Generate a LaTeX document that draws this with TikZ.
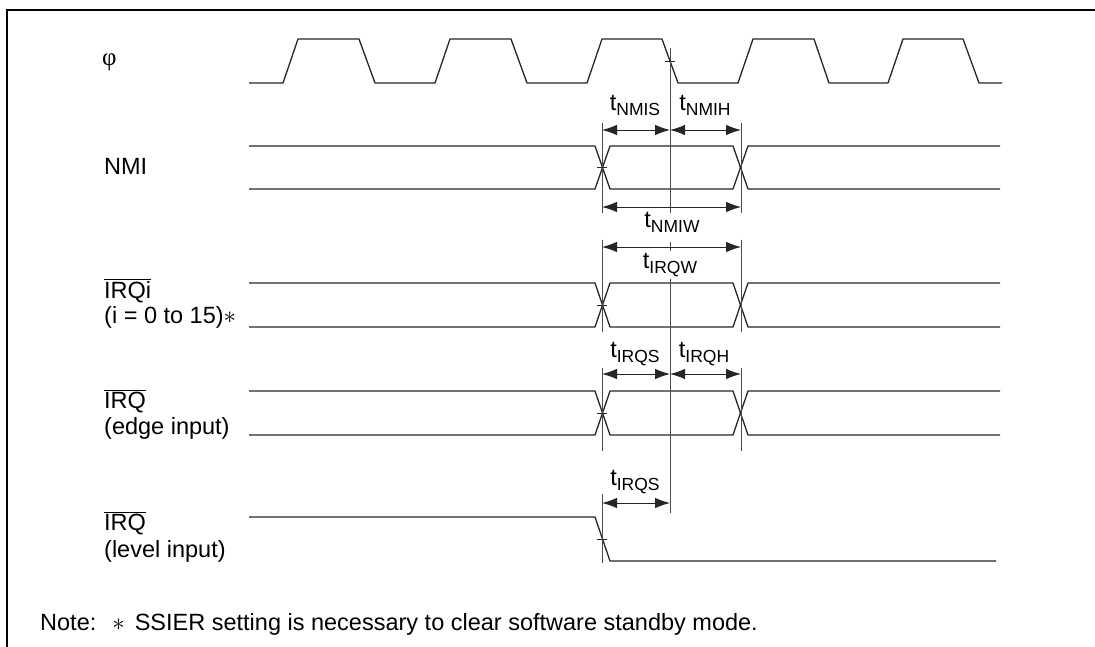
\documentclass[tikz,border=0pt]{standalone}
\usepackage{fontspec}
\setmainfont{Liberation Sans}
\newfontfamily\phifont{Liberation Serif}
\usetikzlibrary{arrows.meta}
\newcommand{\tsub}[2]{#1\raisebox{-5pt}{\fontsize{17.5}{18}\selectfont #2}}
\tikzset{
  sig/.style={line width=1.3pt, black!85, line join=round},
  dimln/.style={line width=0.9pt, black!70},
  dimarr/.style={line width=0.9pt, black!85, {Latex[length=15pt,width=10.5pt]}-{Latex[length=15pt,width=10.5pt]}},
  lbl/.style={anchor=base west, inner sep=0pt, font=\fontsize{23.5}{27}\selectfont},
  tlbl/.style={anchor=base, inner sep=0pt, font=\fontsize{23.5}{27}\selectfont},
  tickmark/.style={line width=0.8pt, black!85}
}
\begin{document}
\begin{tikzpicture}[x=1pt,y=-1pt]
\useasboundingbox (0,0) rectangle (1095,647);
% frame
\draw[line width=2.2pt] (1095,10) -- (7,10) -- (7,647);

% clock
\draw[sig] (249,83) -- (283,83) -- (298,39) -- (359,39) -- (375,83)
  -- (435,83) -- (450,39) -- (511,39) -- (527,83)
  -- (587,83) -- (602,39) -- (662,39) -- (678,83)
  -- (738,83) -- (753,39) -- (814,39) -- (829,83)
  -- (888,83) -- (903,39) -- (963,39) -- (979,83) -- (1002,83);

% bus-type signals
\foreach \t/\b in {146/189, 283/327, 391/435}{
  \draw[sig] (249,\t) -- (595,\t) -- (610,\b) -- (733,\b) -- (748,\t) -- (1000,\t);
  \draw[sig] (249,\b) -- (595,\b) -- (610,\t) -- (733,\t) -- (748,\b) -- (1000,\b);
}
% level signal
\draw[sig] (249,517) -- (595,517) -- (610,561) -- (996,561);

% reference coordinates
\coordinate (c0) at (670,48);
\coordinate (c1) at (670,213);
\coordinate (c2) at (670,242);
\coordinate (c3) at (670,251);
\coordinate (c4) at (670,279);
\coordinate (c5) at (670,513);

% vertical dimension lines
\draw[dimln] (c0) -- (c1);
\draw[dimln] (c2) -- (c3);
\draw[dimln] (c4) -- (c5);
\foreach \ya/\yb in {123/213, 240/332, 368/451}{
  \draw[dimln] (602,\ya) -- (602,\yb);
  \draw[dimln] (741,\ya) -- (741,\yb);
}
\draw[dimln] (602,494) -- (602,563);

% ticks
\draw[tickmark] (665,61) -- (675,61);
\foreach \y in {167.5, 305, 413, 539}{
  \draw[tickmark] (597,\y) -- (607,\y);
}

% dimension arrows
\coordinate (n1) at (602,130); \coordinate (n2) at (670,130); \coordinate (n3) at (741,130);
\coordinate (w1) at (602,207); \coordinate (w2) at (741,207);
\coordinate (q1) at (602,247); \coordinate (q2) at (741,247);
\coordinate (e1) at (602,374); \coordinate (e2) at (670,374); \coordinate (e3) at (741,374);
\coordinate (l1) at (602,503); \coordinate (l2) at (670,503);
\draw[dimarr] (n1) -- (n2);
\draw[dimarr] (n2) -- (n3);
\draw[dimarr] (w1) -- (w2);
\draw[dimarr] (q1) -- (q2);
\draw[dimarr] (e1) -- (e2);
\draw[dimarr] (e2) -- (e3);
\draw[dimarr] (l1) -- (l2);

% timing labels
\node[tlbl] (tnmis) at (635,111) {\tsub{t}{NMIS}};
\node[tlbl] (tnmih) at (705,111) {\tsub{t}{NMIH}};
\node[tlbl] (tnmiw) at (672,228) {\tsub{t}{NMIW}};
\node[tlbl] (tirqw) at (670,269) {\tsub{t}{IRQW}};
\node[tlbl] (tirqs) at (635,357) {\tsub{t}{IRQS}};
\node[tlbl] (tirqh) at (704,357) {\tsub{t}{IRQH}};
\node[tlbl] (tirqs2) at (635,485) {\tsub{t}{IRQS}};

% signal names
\node[lbl, font=\phifont\fontsize{25}{27}\selectfont] (phi) at (102,66) {φ};
\node[lbl] (nmi) at (104,175) {NMI};
\node[lbl] (irqi) at (104,298) {$\overline{\mbox{IRQi}}$};
\node[lbl] (irqin) at (104,323) {(i = 0 to 15)$\ast$};
\node[lbl] (irqe) at (104,408) {$\overline{\mbox{IRQ}}$};
\node[lbl] (irqen) at (104,434) {(edge input)};
\node[lbl] (irql) at (104,530) {$\overline{\mbox{IRQ}}$};
\node[lbl] (irqln) at (104,557) {(level input)};

% note
\node[lbl] (note) at (40,630) {Note:\hspace{16pt}$\ast$\hspace{10pt}SSIER setting is necessary to clear software standby mode.};
\end{tikzpicture}
\end{document}
